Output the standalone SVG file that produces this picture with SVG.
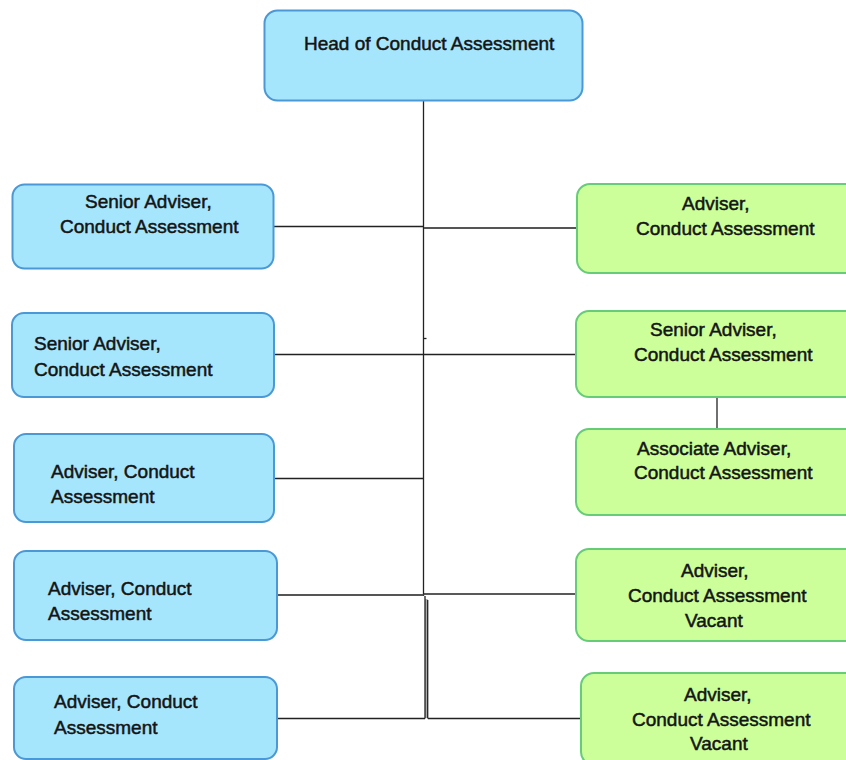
<svg xmlns="http://www.w3.org/2000/svg" width="846" height="760" viewBox="0 0 846 760">
<style>
  .blue{fill:#A6E6FC;stroke:#4A98D6;stroke-width:2}
  .green{fill:#CCFF99;stroke:#66CC77;stroke-width:2}
  text{font-family:"Liberation Sans",Arial,sans-serif;font-size:19px;fill:#141414;stroke:#141414;stroke-width:0.5}
  .c{fill:none;stroke:#222;stroke-width:1.3}
</style>
<rect width="846" height="760" fill="#fff"/>
<g id="connectors">
  <path class="c" d="M423.5 101 V596"/>
  <rect x="425" y="599" width="2.7" height="119" fill="#aaa"/>
  <path class="c" d="M425 596 V718.5 M427.7 600 V718.5"/>
  <path class="c" d="M274 226.5 H423.5"/>
  <path d="M424 228 H577" fill="none" stroke="#555" stroke-width="2"/>
  <path class="c" d="M274 354.5 H576"/>
  <path class="c" d="M423 338.5 H426.5"/>
  <path class="c" d="M274 478.5 H423.5"/>
  <path d="M277 595 H423.5" fill="none" stroke="#555" stroke-width="1.8"/>
  <path class="c" d="M424 594 H576"/>
  <path class="c" d="M277 718.5 H425 M428 718.5 H581"/>
  <path class="c" d="M717 397 V429"/>
</g>
<g id="head">
  <rect class="blue" x="264.5" y="10.5" width="318" height="90" rx="13"/>
  <text x="304" y="50">Head of Conduct Assessment</text>
</g>
<g id="left1">
  <rect class="blue" x="12.5" y="184.5" width="261" height="84" rx="12"/>
  <text x="85" y="208">Senior Adviser,</text>
  <text x="60" y="233">Conduct Assessment</text>
</g>
<g id="left2">
  <rect class="blue" x="12" y="313" width="262" height="84" rx="12"/>
  <text x="34" y="350">Senior Adviser,</text>
  <text x="34" y="376">Conduct Assessment</text>
</g>
<g id="left3">
  <rect class="blue" x="14" y="434" width="260" height="88" rx="12"/>
  <text x="51" y="478">Adviser, Conduct</text>
  <text x="51" y="503">Assessment</text>
</g>
<g id="left4">
  <rect class="blue" x="14" y="551" width="263" height="89" rx="12"/>
  <text x="48" y="595">Adviser, Conduct</text>
  <text x="48" y="620">Assessment</text>
</g>
<g id="left5">
  <rect class="blue" x="14" y="677" width="263" height="82" rx="12"/>
  <text x="54" y="708">Adviser, Conduct</text>
  <text x="54" y="734">Assessment</text>
</g>
<g id="right1">
  <rect class="green" x="577" y="184" width="290" height="89" rx="13"/>
  <text x="682" y="210">Adviser,</text>
  <text x="636" y="235">Conduct Assessment</text>
</g>
<g id="right2">
  <rect class="green" x="576" y="311" width="290" height="86" rx="13"/>
  <text x="650" y="336">Senior Adviser,</text>
  <text x="634" y="361">Conduct Assessment</text>
</g>
<g id="right3">
  <rect class="green" x="576" y="429" width="290" height="86" rx="13"/>
  <text x="637" y="455">Associate Adviser,</text>
  <text x="634" y="479">Conduct Assessment</text>
</g>
<g id="right4">
  <rect class="green" x="576" y="549" width="290" height="92" rx="13"/>
  <text x="681" y="577">Adviser,</text>
  <text x="628" y="602">Conduct Assessment</text>
  <text x="685" y="627">Vacant</text>
</g>
<g id="right5">
  <rect class="green" x="581" y="673" width="290" height="92" rx="13"/>
  <text x="684" y="701">Adviser,</text>
  <text x="632" y="726">Conduct Assessment</text>
  <text x="690" y="750">Vacant</text>
</g>
</svg>
